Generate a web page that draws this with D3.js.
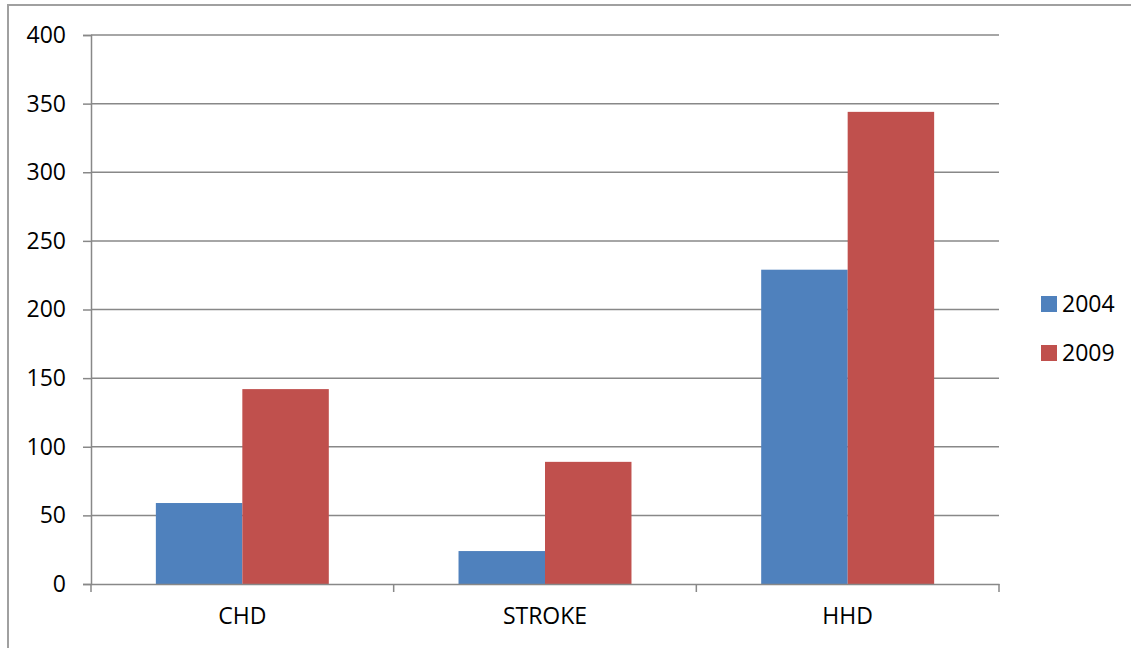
<!DOCTYPE html>
<html><head><meta charset="utf-8">
<script src="https://cdn.jsdelivr.net/npm/d3@7"></script>
<style>body{margin:0;background:#fff;} svg{display:block;}</style>
</head><body>
<svg id="c" width="1131" height="648"></svg>
<script>
const categories = ["CHD", "STROKE", "HHD"];
const seriesNames = ["2004", "2009"];
const values2004 = [59, 24, 229];
const values2009 = [142, 89, 344];
const yTicks = [0, 50, 100, 150, 200, 250, 300, 350, 400];
const colors = ["#4F81BD", "#C0504D"];

const svg = d3.select("#c");
const font = "'Open Sans', sans-serif";
const fs = 23;
const L = 91, R = 999, T = 35, B = 584;

// outer chart border
svg.append("rect").attr("x", 8).attr("y", 5).attr("width", 1140).attr("height", 660)
  .attr("fill", "none").attr("stroke", "#a0a0a0").attr("stroke-width", 2);

const x = d3.scaleBand().domain(categories).range([L, R]).paddingInner(0).paddingOuter(0);
const y = d3.scaleLinear().domain([0, 400]).range([B, T]);
const groupPad = x.bandwidth() * 0.75 / 3.5;
const xs = d3.scaleBand().domain(seriesNames).range([groupPad, x.bandwidth() - groupPad]);

// gridlines
svg.append("g").selectAll("line").data(yTicks.filter(d => d > 0)).join("line")
  .attr("x1", L).attr("x2", R).attr("y1", d => y(d)).attr("y2", d => y(d))
  .attr("stroke", "#888").attr("stroke-width", 1.5);

// bars
const data = [values2004, values2009];
const g = svg.append("g");
seriesNames.forEach((s, si) => {
  g.selectAll(".b" + si).data(categories).join("rect")
    .attr("x", c => x(c) + xs(s))
    .attr("width", xs.bandwidth())
    .attr("y", (c, i) => y(data[si][i]))
    .attr("height", (c, i) => y(0) - y(data[si][i]))
    .attr("fill", colors[si]);
});

// y axis
const yAxis = d3.axisLeft(y).tickValues(yTicks).tickSize(8).tickPadding(17);
const ya = svg.append("g").attr("transform", `translate(${L},0)`).call(yAxis);
ya.select(".domain").attr("stroke", "#888").attr("stroke-width", 1.5);
ya.selectAll(".tick line").attr("stroke", "#888").attr("stroke-width", 1.5);
ya.selectAll(".tick text").attr("font-family", font).attr("font-size", fs).attr("fill", "#000");

// x axis
const xAxis = d3.axisBottom(x).tickSize(0).tickPadding(24);
const xa = svg.append("g").attr("transform", `translate(0,${B})`).call(xAxis);
xa.select(".domain").attr("stroke", "#888").attr("stroke-width", 1.5);
xa.selectAll(".tick text").attr("font-family", font).attr("font-size", fs).attr("fill", "#000");
// category separator ticks
const sep = [L, ...categories.map(c => x(c) + x.bandwidth())];
svg.append("g").selectAll("line").data(sep).join("line")
  .attr("x1", d => d).attr("x2", d => d).attr("y1", B).attr("y2", B + 8)
  .attr("stroke", "#888").attr("stroke-width", 1.5);

// legend
const lg = svg.append("g");
seriesNames.forEach((s, i) => {
  const yy = 296 + i * 49;
  lg.append("rect").attr("x", 1041).attr("y", yy).attr("width", 16).attr("height", 16).attr("fill", colors[i]);
  lg.append("text").attr("x", 1062).attr("y", yy + 8).attr("dy", "0.35em")
    .attr("font-family", font).attr("font-size", fs).attr("fill", "#000").text(s);
});
</script>
</body></html>
